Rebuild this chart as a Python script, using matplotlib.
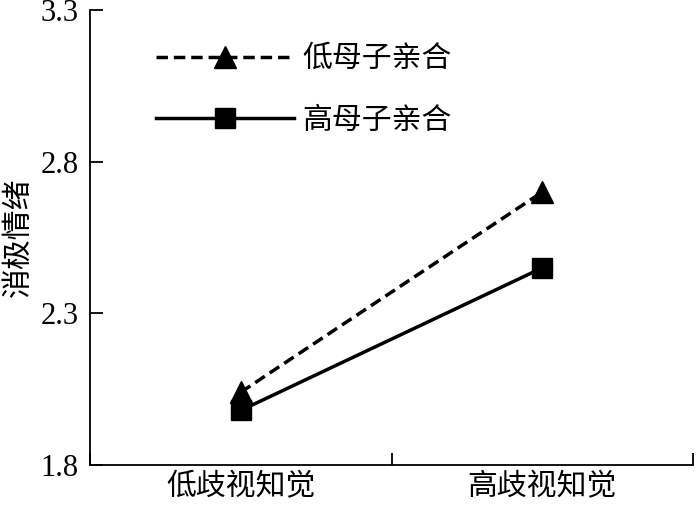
import matplotlib.pyplot as plt
import numpy as np

plt.rcParams['font.family'] = ['Liberation Serif', 'Noto Sans CJK SC']

categories = ["低歧视知觉", "高歧视知觉"]
low_bond = [2.04, 2.70]   # 低母子亲合
high_bond = [1.98, 2.45]  # 高母子亲合
yticks = [1.8, 2.3, 2.8, 3.3]

xpos = np.array([0.5, 1.5])

fig = plt.figure(figsize=(7, 5.07), dpi=100)
ax = fig.add_axes([0.1286, 0.0828, 0.8614, 0.8974])

ax.plot(xpos, low_bond, "k--", marker="^", ms=16, lw=2.5, dashes=(3.3, 1.7),
        label="低母子亲合")
ax.plot(xpos, high_bond, "k-", marker="s", ms=14, lw=2.5,
        label="高母子亲合")

ax.set_xlim(0, 2)
ax.set_ylim(1.8, 3.3)
ax.set_yticks(yticks)
ax.set_yticklabels([f"{v:.1f}" for v in yticks])
ax.set_xticks([0, 1, 2])
ax.set_xticklabels([])
ax.set_xticks(xpos, minor=True)
ax.set_xticklabels(categories, minor=True)
ax.tick_params(axis="x", which="minor", length=0, pad=6, labelsize=21.5)
ax.tick_params(axis="x", which="major", direction="in", length=9, width=1.3)
ax.tick_params(axis="y", direction="in", length=9, width=1.3, labelsize=22, pad=8)

for s in ["top", "right"]:
    ax.spines[s].set_visible(False)
for s in ["left", "bottom"]:
    ax.spines[s].set_linewidth(1.3)

ax.set_ylabel("消极情绪", fontsize=21.5, labelpad=6)

ax.legend(loc="upper left", bbox_to_anchor=(0.085, 0.955), frameon=False,
          fontsize=21.5, handlelength=4.6, labelspacing=1.15, handletextpad=0.3,
          borderpad=0)

fig.savefig("out.png", dpi=100)
